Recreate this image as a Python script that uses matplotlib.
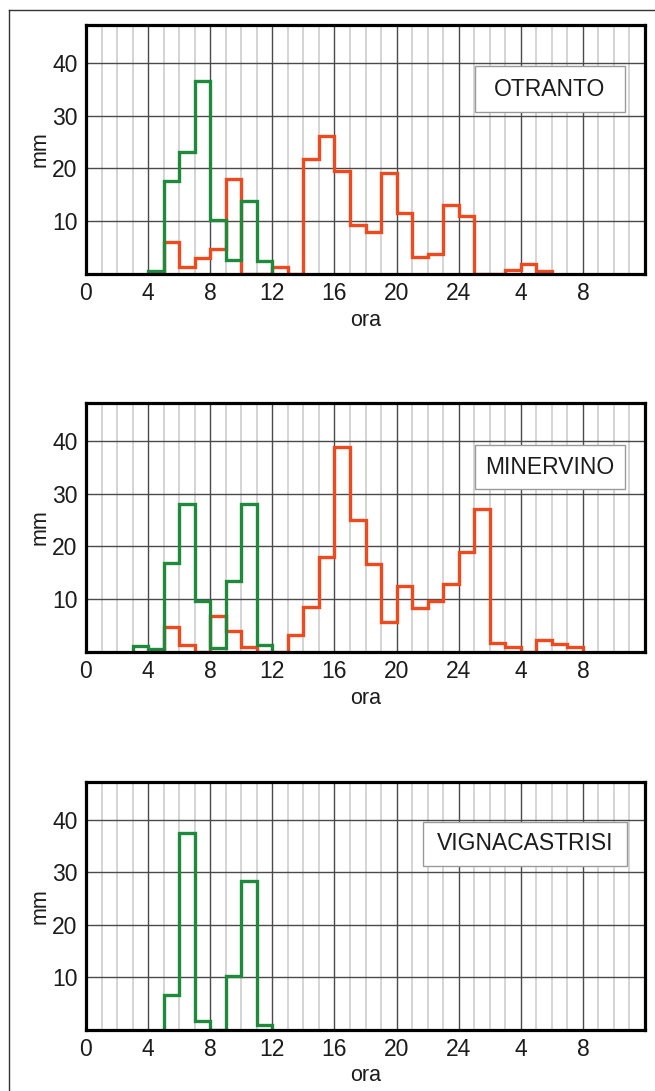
import matplotlib
matplotlib.use("Agg")
import matplotlib.pyplot as plt
import numpy as np
from matplotlib.lines import Line2D
from matplotlib.patches import Rectangle

plt.rcParams['font.family'] = ['Liberation Sans', 'DejaVu Sans']

# --- data (mm per hour) ---
hour_ticks = [0, 4, 8, 12, 16, 20, 24, 28, 32]
hour_labels = ['0', '4', '8', '12', '16', '20', '24', '4', '8']
mm_ticks = [10, 20, 30, 40]

otranto_green_start = 4
otranto_green = [0.5, 17.6, 23.2, 36.6, 10.2, 2.7, 13.9, 2.5]
otranto_red_start = 5
otranto_red = [6.1, 1.3, 3.0, 4.7, 18.0, 0, 0, 1.4, 0, 21.8, 26.2, 19.5, 9.3,
               7.9, 19.1, 11.5, 3.2, 3.8, 13.1, 10.9, 0, 0, 0.8, 1.9, 0.6]

minervino_green_start = 3
minervino_green = [1.1, 0.5, 16.8, 28.0, 9.7, 0.7, 13.4, 28.0, 1.3]
minervino_red_start = 5
minervino_red = [4.7, 1.3, 0, 6.9, 3.9, 0.9, 0, 0, 3.2, 8.5, 18.0, 38.9, 25.0,
                 16.6, 5.6, 12.6, 8.3, 9.6, 12.8, 19.0, 27.2, 1.7, 1.0, 0,
                 2.3, 1.5, 1.0]

vigna_green_start = 5
vigna_green = [6.6, 37.4, 1.7, 0, 10.3, 28.4, 1.0]

panels = [
    ('OTRANTO', otranto_green_start, otranto_green, otranto_red_start, otranto_red),
    ('MINERVINO', minervino_green_start, minervino_green, minervino_red_start, minervino_red),
    ('VIGNACASTRISI', vigna_green_start, vigna_green, None, None),
]

GREEN = '#1f8a3c'
RED = '#ee4a1e'
TXT = '#1c1c1c'

fig = plt.figure(figsize=(6.55, 10.91), dpi=100)

W, H = 655.0, 1091.0
ax_left, ax_right = 86, 645
ax_rows = [(25, 274), (403, 652), (782, 1030)]
box_px = [(475, 625, 66, 112), (475, 625, 445, 489), (423, 627, 822, 866)]

for (name, gs, gv, rs, rv), (top, bot), (bx0, bx1, by0, by1) in zip(panels, ax_rows, box_px):
    ax = fig.add_axes([ax_left / W, 1 - bot / H, (ax_right - ax_left) / W, (bot - top) / H])
    ax.set_xlim(0, 36)
    ax.set_ylim(0, 47.2)

    # grid
    for h in range(1, 36):
        if h % 4 == 0:
            ax.axvline(h, color='#4a4a4a', lw=1.0, zorder=1)
        else:
            ax.axvline(h, color='#d4d4d4', lw=1.4, zorder=0.5)
    for m in mm_ticks:
        ax.axhline(m, color='#4a4a4a', lw=1.0, zorder=1)

    if rv is not None:
        edges = np.arange(rs, rs + len(rv) + 1)
        ax.stairs(rv, edges, baseline=0, fill=False, color=RED, lw=2.4, zorder=3)
    edges = np.arange(gs, gs + len(gv) + 1)
    ax.stairs(gv, edges, baseline=0, fill=False, color=GREEN, lw=2.4, zorder=4)

    ax.set_xticks(hour_ticks)
    ax.set_xticklabels(hour_labels)
    ax.set_yticks(mm_ticks)
    ax.tick_params(length=0, labelsize=16.5, pad=6, colors=TXT)
    for s in ax.spines.values():
        s.set_linewidth(2.3)
        s.set_color('black')
        s.set_zorder(5)

    ax.set_ylabel('mm', fontsize=15.5, color=TXT)
    ax.yaxis.set_label_coords(-0.082, 0.5)
    ax.yaxis.label.set_va('center')
    ax.set_xlabel('ora', fontsize=15.5, color=TXT)
    ax.xaxis.set_label_coords(0.5, -0.185)
    ax.xaxis.label.set_va('center')

    # station label box
    fx0 = (bx0 - ax_left) / (ax_right - ax_left)
    fx1 = (bx1 - ax_left) / (ax_right - ax_left)
    fy0 = (bot - by1) / (bot - top)
    fy1 = (bot - by0) / (bot - top)
    ax.add_patch(Rectangle((fx0, fy0), fx1 - fx0, fy1 - fy0, transform=ax.transAxes,
                           facecolor='white', edgecolor='#9a9a9a', lw=1.0, zorder=6))
    ax.text((fx0 + fx1) / 2, (fy0 + fy1) / 2, name, transform=ax.transAxes,
            ha='center', va='center', fontsize=16.5, color=TXT, zorder=7)

# outer frame of the figure
fig.add_artist(Line2D([9 / W, 1.01], [1 - 10 / H, 1 - 10 / H], color='#333333', lw=1.0))
fig.add_artist(Line2D([9 / W, 9 / W], [1 - 10 / H, -0.01], color='#333333', lw=1.0))

fig.savefig('out.png', dpi=100)
